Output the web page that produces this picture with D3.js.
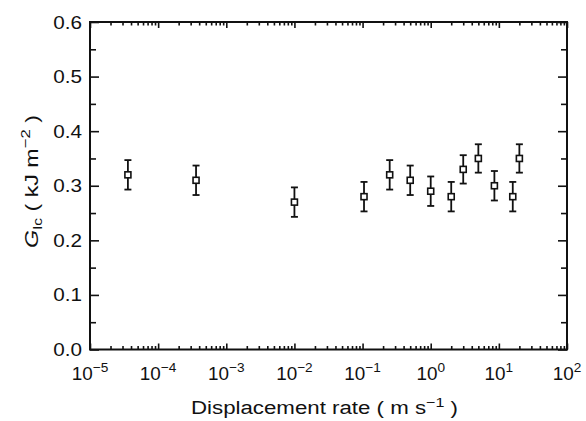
<!DOCTYPE html>
<html><head><meta charset="utf-8">
<script src="https://cdn.jsdelivr.net/npm/d3@7"></script>
<style>body{margin:0;background:#fff}svg{display:block}text{font-family:"Liberation Sans",Arial,sans-serif;fill:#111}</style>
</head><body><svg id="c" width="586" height="421"></svg>
<script>
const rates = [3.6e-5, 3.6e-4, 1.0e-2, 0.105, 0.25, 0.5, 1.0, 2.0, 3.0, 5.0, 8.6, 16, 20];
const glc   = [0.32, 0.31, 0.27, 0.28, 0.32, 0.31, 0.29, 0.28, 0.33, 0.35, 0.30, 0.28, 0.35];
const errs  = [0.027, 0.027, 0.027, 0.027, 0.027, 0.027, 0.027, 0.027, 0.026, 0.026, 0.027, 0.027, 0.026];
const xDecades = [-5, -4, -3, -2, -1, 0, 1, 2];
const yTicks = [0.0, 0.1, 0.2, 0.3, 0.4, 0.5, 0.6];

const svg = d3.select("#c");
const L = 90, R = 567, T = 22, B = 349.5;
const x = d3.scaleLog().domain([1e-5, 1e2]).range([L, R]);
const y = d3.scaleLinear().domain([0, 0.6]).range([B, T]);

const minorX = [];
for (let d = -5; d < 2; d++) for (let k = 2; k <= 9; k++) minorX.push(k * Math.pow(10, d));
const majorX = xDecades.map(d => Math.pow(10, d));
const minorY = d3.range(0.05, 0.6, 0.1);

function styleAxis(g){ g.select(".domain").remove(); g.selectAll("line").attr("stroke","#111").attr("stroke-width",1.6); g.selectAll("text").remove(); }

svg.append("g").attr("transform",`translate(0,${B})`).call(d3.axisBottom(x).tickValues(majorX).tickSize(-6).tickFormat("")).call(styleAxis);
svg.append("g").attr("transform",`translate(0,${B})`).call(d3.axisBottom(x).tickValues(minorX).tickSize(-3.5).tickFormat("")).call(styleAxis);
svg.append("g").attr("transform",`translate(0,${T})`).call(d3.axisTop(x).tickValues(majorX).tickSize(-6).tickFormat("")).call(styleAxis);
svg.append("g").attr("transform",`translate(0,${T})`).call(d3.axisTop(x).tickValues(minorX).tickSize(-3.5).tickFormat("")).call(styleAxis);
svg.append("g").attr("transform",`translate(${L},0)`).call(d3.axisLeft(y).tickValues(yTicks).tickSize(-9).tickFormat("")).call(styleAxis);
svg.append("g").attr("transform",`translate(${L},0)`).call(d3.axisLeft(y).tickValues(minorY).tickSize(-6).tickFormat("")).call(styleAxis);
svg.append("g").attr("transform",`translate(${R},0)`).call(d3.axisRight(y).tickValues(yTicks).tickSize(-9).tickFormat("")).call(styleAxis);
svg.append("g").attr("transform",`translate(${R},0)`).call(d3.axisRight(y).tickValues(minorY).tickSize(-6).tickFormat("")).call(styleAxis);

svg.append("rect").attr("x",L).attr("y",T).attr("width",R-L).attr("height",B-T)
  .attr("fill","none").attr("stroke","#111").attr("stroke-width",2);

// y labels
svg.selectAll(".yl").data(yTicks).join("text").attr("class","yl")
  .attr("transform", d => `translate(${L-8},${y(d)+6.5}) scale(1.15,1)`)
  .attr("text-anchor","end").attr("font-size",18).text(d => d.toFixed(1));

// x labels
const xl = svg.selectAll(".xl").data(xDecades).join("text").attr("class","xl")
  .attr("transform", d => `translate(${x(Math.pow(10,d))},380) scale(1.05,1)`)
  .attr("text-anchor","middle").attr("font-size",18);
xl.append("tspan").text("10");
xl.append("tspan").attr("dy",-8).attr("font-size",13).text(d => d < 0 ? "\u2212" + (-d) : String(d));

// x title
const xt = svg.append("text").attr("x",191).attr("y",414).attr("font-size",18)
  .attr("textLength",267).attr("lengthAdjust","spacingAndGlyphs");
xt.append("tspan").text("Displacement rate ( m s");
xt.append("tspan").attr("dy",-7).attr("font-size",13).text("\u22121");
xt.append("tspan").attr("dy",7).text(" )");

// y title
const yt = svg.append("text").attr("transform",`translate(38,248) rotate(-90)`).attr("font-size",18)
  .attr("textLength",133).attr("lengthAdjust","spacingAndGlyphs");
yt.append("tspan").attr("font-style","italic").text("G");
yt.append("tspan").attr("dy",4).attr("font-size",12).text("Ic");
yt.append("tspan").attr("dy",-4).text(" ( kJ m");
yt.append("tspan").attr("dy",-8).attr("font-size",13).text("\u22122");
yt.append("tspan").attr("dy",8).text(" )");

// error bars & markers
const data = rates.map((r,i)=>({r, v: glc[i], e: errs[i]}));
const g = svg.append("g").attr("stroke","#111").attr("stroke-width",1.8);
g.selectAll(".eb").data(data).join("line").attr("x1",d=>x(d.r)).attr("x2",d=>x(d.r))
  .attr("y1",d=>y(d.v+d.e)).attr("y2",d=>y(d.v-d.e));
g.selectAll(".ct").data(data).join("line").attr("x1",d=>x(d.r)-3.5).attr("x2",d=>x(d.r)+3.5)
  .attr("y1",d=>y(d.v+d.e)).attr("y2",d=>y(d.v+d.e));
g.selectAll(".cb").data(data).join("line").attr("x1",d=>x(d.r)-3.5).attr("x2",d=>x(d.r)+3.5)
  .attr("y1",d=>y(d.v-d.e)).attr("y2",d=>y(d.v-d.e));
g.selectAll(".mk").data(data).join("rect").attr("x",d=>x(d.r)-3).attr("y",d=>y(d.v)-3)
  .attr("width",6).attr("height",6).attr("fill","#fff").attr("stroke-width",1.6);
</script></body></html>
